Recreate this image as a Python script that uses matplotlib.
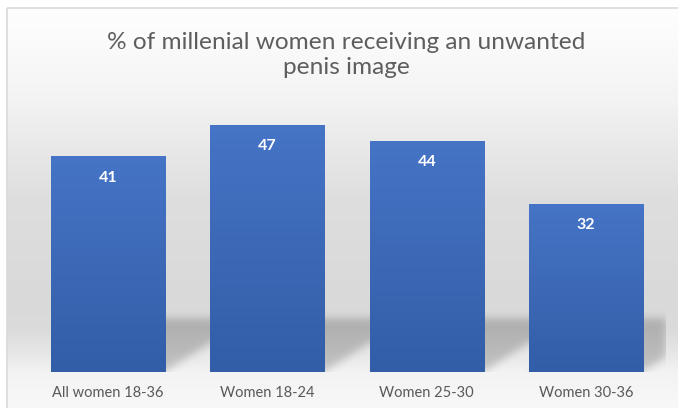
"""
plot.py - share of millennial women receiving an unwanted image.

Excel-style column chart: light gradient backdrop, gradient blue bars,
soft perspective shadow behind the bars. Saves out.png.
"""

import numpy as np
import matplotlib
matplotlib.use("Agg")
import matplotlib.pyplot as plt
from matplotlib.colors import LinearSegmentedColormap
from matplotlib.patches import Rectangle

# ---------------------------------------------------------------------------
# Data
# ---------------------------------------------------------------------------
categories = ["All women 18-36", "Women 18-24", "Women 25-30", "Women 30-36"]
values = [41, 47, 44, 32]
title = "% of millenial women receiving an unwanted\npenis image"

# ---------------------------------------------------------------------------
# Figure / style
# ---------------------------------------------------------------------------
W, H = 678, 408
FONT = ["Lato", "DejaVu Sans"]
TEXT_GRAY = "#595959"
BAR_TOP = "#4674c6"
BAR_BOTTOM = "#325da7"

fig = plt.figure(figsize=(W / 100, H / 100), dpi=100)

# chart-area backdrop: vertical gray gradient (white top, gray middle, light bottom)
bg = fig.add_axes([0, 0, 1, 1])
grad_y = [0, 7, 40, 100, 150, 200, 300, 330, 355, 372, 408]
grad_v = [255, 254, 251, 243, 232, 222, 217, 219, 232, 243, 248]
col = np.interp(np.arange(H), grad_y, grad_v) / 255
col = np.repeat(col[:, None], 2, axis=1)
bg.imshow(np.dstack([col] * 3), extent=(0, W, H, 0), aspect="auto",
          interpolation="bilinear")
bg.add_patch(Rectangle((0, 0), 6.5, H, color="white", lw=0))
bg.add_patch(Rectangle((0, 0), W, 7.5, color="white", lw=0))
bg.add_patch(Rectangle((6.5, 7.5), W, H, fill=False, edgecolor="#d9d9d9", lw=1.2))
bg.set_xlim(0, W)
bg.set_ylim(H, 0)
bg.axis("off")

fig.text(346 / W, 1 - 55 / H, title, ha="center", va="center", fontsize=17.6,
         family=FONT, color="#5e5e5e", linespacing=1.25)

# plot area
ax_l, ax_b, ax_w, ax_h = 28, 36, 638, 263
ax = fig.add_axes([ax_l / W, ax_b / H, ax_w / W, ax_h / H])
ax.patch.set_alpha(0)
ymax = 50
x = np.arange(len(values))
bw = 0.716

# soft perspective shadow cast up-right from each bar's base
px_x = ax_w / len(values)
px_y = ax_h / ymax
sh_h = 54 / px_y
sh_dx = 85 / px_x
gx = np.linspace(-0.5, len(values) - 0.5, ax_w)
gy = np.linspace(0, ymax, ax_h)
X, Y = np.meshgrid(gx, gy)
mask = np.zeros_like(X)
for xi in x:
    xs = X - Y / sh_h * sh_dx
    mask[(Y <= sh_h) & (xs >= xi - bw / 2) & (xs <= xi + bw / 2)] = 1.0

sigma = 4
k = np.exp(-0.5 * (np.arange(-3 * sigma, 3 * sigma + 1) / sigma) ** 2)
k /= k.sum()
mask = np.apply_along_axis(lambda r: np.convolve(r, k, mode="same"), 1, mask)
mask = np.apply_along_axis(lambda c: np.convolve(c, k, mode="same"), 0, mask)
shadow = np.zeros(mask.shape + (4,))
shadow[..., 3] = 0.19 * mask
ax.imshow(shadow, extent=(-0.5, len(values) - 0.5, 0, ymax), origin="lower",
          aspect="auto", interpolation="bilinear", zorder=1)

# bars with a top-to-bottom gradient
bars = ax.bar(x, values, width=bw, color=BAR_BOTTOM, zorder=2, lw=0)
cmap = LinearSegmentedColormap.from_list("bar", [BAR_BOTTOM, BAR_TOP])
ramp = np.linspace(0, 1, 256)[:, None]
for b in bars:
    x0 = b.get_x()
    im = ax.imshow(ramp, cmap=cmap, origin="lower", aspect="auto",
                   extent=(x0, x0 + b.get_width(), 0, b.get_height()), zorder=3)
    im.set_clip_path(b)

for xi, v in zip(x, values):
    ax.annotate(str(v), (xi, v), xytext=(0, -15.5), textcoords="offset points",
                ha="center", va="center", color="white", fontsize=11.5,
                fontweight="bold", family=FONT, zorder=4)

ax.set_xlim(-0.5, len(values) - 0.5)
ax.set_ylim(0, ymax)
ax.set_xticks(x)
ax.set_xticklabels(categories, fontsize=10.5, family=FONT, color=TEXT_GRAY)
ax.tick_params(axis="x", length=0, pad=10)
ax.set_yticks([])
for s in ax.spines.values():
    s.set_visible(False)

fig.savefig("out.png", dpi=100)
